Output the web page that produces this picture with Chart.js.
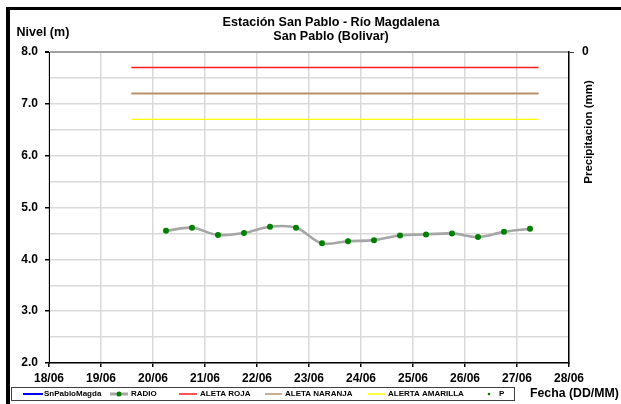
<!DOCTYPE html>
<html><head><meta charset="utf-8">
<script src="https://cdn.jsdelivr.net/npm/chart.js@4"></script>
<style>html,body{margin:0;padding:0;background:#fff}canvas{display:block}</style>
</head><body>
<canvas id="c" width="621" height="404"></canvas>
<script>
// ---- data ----
const xTickLabels = ['18/06','19/06','20/06','21/06','22/06','23/06','24/06','25/06','26/06','27/06','28/06'];
const yTickLabels = ['2.0','3.0','4.0','5.0','6.0','7.0','8.0'];
const y2TickLabels = ['0'];
const seriesNames = ['SnPabloMagda','RADIO','ALETA ROJA','ALETA NARANJA','ALERTA AMARILLA','P'];
const radioDates = ['20/06 06:00','20/06 18:00','21/06 06:00','21/06 18:00','22/06 06:00','22/06 18:00','23/06 06:00','23/06 18:00','24/06 06:00','24/06 18:00','25/06 06:00','25/06 18:00','26/06 06:00','26/06 18:00','27/06 06:00'];
const radioLevels = [4.55,4.61,4.47,4.51,4.63,4.61,4.31,4.35,4.37,4.46,4.48,4.50,4.43,4.53,4.59];
const snPabloDates = [];
const snPabloLevels = [];
const precipDates = [];
const precipValues = [];
const alertDates = ['19/06 14:00','27/06 10:00'];
const rojaLevels = [7.7,7.7];
const naranjaLevels = [7.2,7.2];
const amarillaLevels = [6.7,6.7];

// ---- helpers ----
const FONT = "'Liberation Sans', Arial, sans-serif";
const day0 = Number(xTickLabels[0].split('/')[0]);
function toDays(s){
  const [d,t] = s.split(' ');
  const dd = Number(d.split('/')[0]);
  const [hh,mi] = (t||'00:00').split(':').map(Number);
  return dd - day0 + hh/24 + mi/1440;
}
const pts = (dates, vals) => dates.map((d,i)=>({x:toDays(d), y:vals[i]}));

const COLORS = {
  sn:'#0000ff', radioLine:'#a6a6a6', radioPt:'#008000',
  roja:'#ff1f1f', naranja:'#b8916b', amarilla:'#ffff00', p:'#008000'
};

const overlay = {
  id:'overlay',
  beforeDraw(chart){
    const c = chart.ctx;
    c.save();
    c.fillStyle = '#fff';
    c.fillRect(0,0,chart.width,chart.height);
    c.fillStyle = '#000';
    c.fillRect(6,7,chart.width-6,3);
    c.fillRect(6,7,4,chart.height-7);
    c.restore();
  },
  afterDraw(chart){
    const c = chart.ctx;
    c.save();
    c.fillStyle = '#000';
    c.textBaseline = 'middle';
    // title
    c.textAlign = 'center';
    c.font = 'bold 12.6px ' + FONT;
    c.fillText('Estación San Pablo - Río Magdalena', 331, 22.5);
    c.fillText('San Pablo (Bolivar)', 331, 37);
    // axis titles
    c.font = 'bold 12.5px ' + FONT;
    c.textAlign = 'left';
    c.fillText('Nivel (m)', 16.5, 32.5);
    c.font = 'bold 12.3px ' + FONT;
    c.fillText('Fecha (DD/MM)', 530, 394);
    c.save();
    c.translate(589, 132);
    c.rotate(-Math.PI/2);
    c.textAlign = 'center';
    c.font = 'bold 11.5px ' + FONT;
    c.fillText('Precipitacion (mm)', 0, 0);
    c.restore();
    // legend
    c.strokeStyle = '#404040';
    c.lineWidth = 1;
    c.strokeRect(11.5, 387.5, 503, 13);
    const ly = 394;
    c.font = 'bold 8px ' + FONT;
    c.textAlign = 'left';
    const line = (x1,x2,col,w)=>{c.beginPath();c.strokeStyle=col;c.lineWidth=w;c.moveTo(x1,ly);c.lineTo(x2,ly);c.stroke();};
    const dot = (x,r,col)=>{c.beginPath();c.fillStyle=col;c.arc(x,ly,r,0,Math.PI*2);c.fill();};
    line(23,43,COLORS.sn,2);
    c.fillStyle='#000'; c.fillText(seriesNames[0],44,ly);
    line(110,128,COLORS.radioLine,3); dot(119,2.5,COLORS.radioPt);
    c.fillStyle='#000'; c.fillText(seriesNames[1],131,ly);
    line(179,197,COLORS.roja,1.5);
    c.fillStyle='#000'; c.fillText(seriesNames[2],200,ly);
    line(265,282,COLORS.naranja,1.5);
    c.fillStyle='#000'; c.fillText(seriesNames[3],285,ly);
    line(368,385,COLORS.amarilla,1.5);
    c.fillStyle='#000'; c.fillText(seriesNames[4],388,ly);
    dot(489,1.3,COLORS.p);
    c.fillStyle='#000'; c.fillText(seriesNames[5],499,ly);
    c.restore();
  }
};

Chart.defaults.font.family = FONT;
Chart.defaults.color = '#000';

new Chart(document.getElementById('c'), {
  type:'line',
  data:{
    datasets:[
      {label:seriesNames[0], data:pts(snPabloDates,snPabloLevels), borderColor:COLORS.sn, borderWidth:2, pointRadius:0, yAxisID:'y'},
      {label:seriesNames[1], data:pts(radioDates,radioLevels), borderColor:COLORS.radioLine, borderWidth:2.6, tension:0.35,
        pointRadius:3, pointBackgroundColor:COLORS.radioPt, pointBorderColor:COLORS.radioPt, pointBorderWidth:0, yAxisID:'y', order:0},
      {label:seriesNames[2], data:pts(alertDates,rojaLevels), borderColor:COLORS.roja, borderWidth:1.5, pointRadius:0, yAxisID:'y', order:1},
      {label:seriesNames[3], data:pts(alertDates,naranjaLevels), borderColor:COLORS.naranja, borderWidth:2, pointRadius:0, yAxisID:'y', order:1},
      {label:seriesNames[4], data:pts(alertDates,amarillaLevels), borderColor:COLORS.amarilla, borderWidth:1.2, pointRadius:0, yAxisID:'y', order:1},
      {label:seriesNames[5], data:pts(precipDates,precipValues), showLine:false, pointRadius:1.5, pointBackgroundColor:COLORS.p, borderColor:COLORS.p, yAxisID:'y2'}
    ]
  },
  options:{
    responsive:false, animation:false, devicePixelRatio:1,
    layout:{padding:{top:52, left:0, right:0, bottom:0}},
    plugins:{legend:{display:false}, title:{display:false}, tooltip:{enabled:false}},
    scales:{
      x:{
        type:'linear', position:'bottom', min:0, max:10,
        afterFit(s){ s.height = 41; },
        ticks:{stepSize:1, autoSkip:false, maxRotation:0, padding:4,
          font:{size:12, weight:'bold'}, color:'#000',
          callback:(v)=> xTickLabels[Math.round(v)] ?? ''},
        grid:{color:'#d9d9d9', lineWidth:1.5, tickLength:4, tickColor:'#000'},
        border:{display:true, color:'#000', width:1.5}
      },
      y:{
        type:'linear', position:'left', min:2, max:8,
        afterFit(s){ s.width = 49; },
        ticks:{stepSize:0.5, padding:7, font:{size:12, weight:'bold'}, color:'#000',
          callback:(v)=>{ const t = Number(v).toFixed(1); return yTickLabels.includes(t) ? t : ''; }},
        grid:{
          color:(ctx)=> ctx.tick && ctx.tick.value === 8 ? '#a0a0a0' : '#d9d9d9',
          lineWidth:(ctx)=> ctx.tick && ctx.tick.value === 8 ? 2 : 1.5,
          tickLength:4,
          tickColor:(ctx)=> ctx.tick && Number.isInteger(ctx.tick.value) ? '#000' : 'rgba(0,0,0,0)'
        },
        border:{display:true, color:'#000', width:1}
      },
      y2:{
        type:'linear', position:'right', min:0, max:1, reverse:true,
        afterFit(s){ s.width = 52; },
        afterBuildTicks(s){ s.ticks = y2TickLabels.map(t=>({value:Number(t)})); },
        ticks:{padding:8, font:{size:12, weight:'bold'}, color:'#000', callback:(v)=> y2TickLabels[0]},
        grid:{drawOnChartArea:false, tickLength:5, tickColor:'#333'},
        border:{display:true, color:'#000', width:1.5}
      }
    }
  },
  plugins:[overlay]
});
</script>
</body></html>
